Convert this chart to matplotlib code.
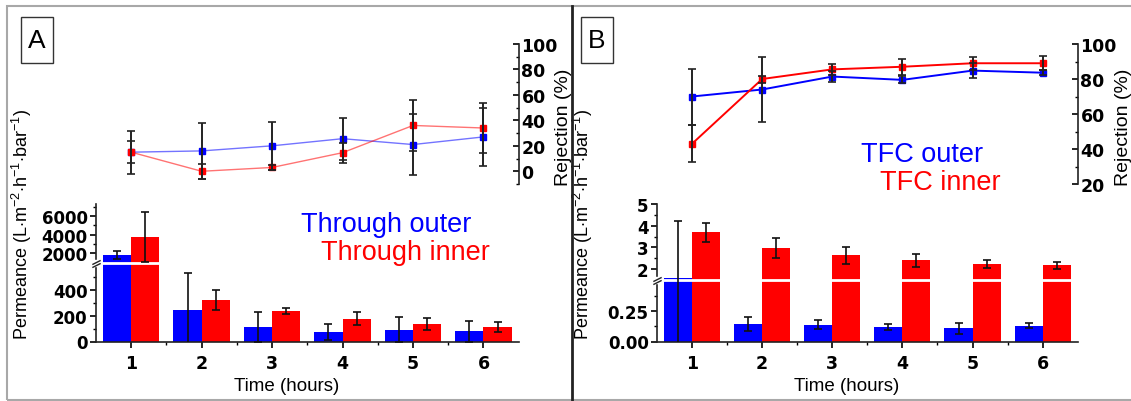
import numpy as np
import matplotlib
matplotlib.use('Agg')
import matplotlib.pyplot as plt
from matplotlib.patches import Rectangle
from matplotlib.lines import Line2D
from matplotlib import transforms

plt.rcParams['font.family'] = ['Liberation Sans', 'DejaVu Sans']
plt.rcParams['mathtext.fontset'] = 'custom'
plt.rcParams['mathtext.rm'] = 'Liberation Sans'
plt.rcParams['mathtext.it'] = 'Liberation Sans:italic'

# time points (hours)
hours = [1, 2, 3, 4, 5, 6]

# panel A - "Through" membranes
perm_outer_A = [1800, 240, 115, 72, 90, 80]
perm_outer_A_err = [420, 290, 115, 60, 95, 80]
perm_inner_A = [3750, 323, 233, 175, 136, 110]
perm_inner_A_err = [2700, 77, 25, 50, 48, 38]
rej_outer_A = [15, 16, 20, 25.6, 21, 27]
rej_outer_A_err = [8.5, 22, 19, 16.5, 24, 23]
rej_inner_A = [15, 0, 3, 14.6, 36, 34]
rej_inner_A_err = [17, 6, 2, 8, 20, 20]

# panel B - TFC membranes
perm_outer_B = [1.6, 0.144, 0.139, 0.12, 0.109, 0.13]
perm_outer_B_err = [2.63, 0.055, 0.035, 0.025, 0.045, 0.022]
perm_inner_B = [3.69, 2.98, 2.63, 2.40, 2.22, 2.17]
perm_inner_B_err = [0.45, 0.45, 0.4, 0.3, 0.18, 0.18]
rej_outer_B = [70, 74, 81.4, 79.5, 84.8, 83.6]
rej_outer_B_err = [16, 18.5, 3, 2, 4.4, 1.5]
rej_inner_B = [43, 80, 85.5, 87, 89, 89]
rej_inner_B_err = [10.5, 2, 3, 4.5, 3.7, 4]

BLUE = '#0000ff'
RED = '#ff0000'
W, H = 1131, 402
TICK_FONT = {'family': 'DejaVu Sans', 'weight': 'bold'}


def piecewise(v, xp, fp):
    # piecewise linear map used for the broken y axis
    v = np.asarray(v, dtype=float)
    out = np.interp(v, xp, fp)
    lo = (fp[1] - fp[0]) / (xp[1] - xp[0])
    hi = (fp[-1] - fp[-2]) / (xp[-1] - xp[-2])
    out = np.where(v < xp[0], fp[0] + (v - xp[0]) * lo, out)
    out = np.where(v > xp[-1], fp[-1] + (v - xp[-1]) * hi, out)
    return out


def px_axes(fig, x0, y0, x1, y1):
    return fig.add_axes([x0 / W, 1 - y1 / H, (x1 - x0) / W, (y1 - y0) / H])


def draw_panel(fig, x0, x1, outer, outer_err, inner, inner_err,
               rej_o, rej_o_err, rej_i, rej_i_err,
               brk_x, brk_f, brk_line, yticks, yticklabels, yminor,
               rej_lim, rej_ticks, thin_lines, rej_label_x):
    x = np.array(hours)

    # --- permeance bars (broken axis) ---
    ax = px_axes(fig, x0, 205, x1, 342.5)
    ax.set_yscale('function', functions=(lambda v: piecewise(v, brk_x, brk_f),
                                         lambda v: piecewise(v, brk_f, brk_x)))
    ax.bar(x - 0.2, outer, 0.4, color=BLUE, zorder=2)
    ax.bar(x + 0.2, inner, 0.4, color=RED, zorder=2)
    ax.axhline(brk_line, color='white', lw=2, zorder=3)
    ax.errorbar(x - 0.2, outer, yerr=outer_err, fmt='none', ecolor='#111111',
                elinewidth=1.2, capsize=3, capthick=1.2, zorder=4)
    ax.errorbar(x + 0.2, inner, yerr=inner_err, fmt='none', ecolor='#111111',
                elinewidth=1.2, capsize=3, capthick=1.2, zorder=4)
    ax.set_xlim(0.5, 6.5)
    ax.set_ylim(brk_x[0], brk_x[-1])
    ax.set_yticks(yticks)
    ax.set_yticklabels(yticklabels, fontdict=TICK_FONT, fontsize=12)
    ax.set_yticks(yminor, minor=True)
    ax.set_xticks(hours)
    ax.set_xticklabels([str(h) for h in hours], fontdict=TICK_FONT, fontsize=12.5)
    ax.set_xticks(np.arange(1.5, 6, 1), minor=True)
    ax.tick_params(which='major', length=4, width=1.2, pad=2)
    ax.tick_params(which='minor', length=2.5, width=1)
    ax.tick_params(axis='x', which='major', pad=5)
    for s in ['top', 'right']:
        ax.spines[s].set_visible(False)
    for s in ['left', 'bottom']:
        ax.spines[s].set_linewidth(1.2)
        ax.spines[s].set_color('#222222')
    ax.set_xlabel('Time (hours)', fontsize=13.5)
    ax.xaxis.set_label_coords(0.45, -0.26)
    ax.text(-0.175, 0.86, 'Permeance (L$\\cdot$m$^{-2}$$\\cdot$h$^{-1}$$\\cdot$bar$^{-1}$)',
            transform=ax.transAxes, rotation=90, ha='center', va='center',
            fontsize=13)
    # break mark on the y spine
    tr = ax.get_yaxis_transform()
    ax.plot([0], [brk_line], marker='s', ms=5, color='white', mec='white',
            transform=tr, clip_on=False, zorder=5)
    for dy in (-1.5, 1.5):
        t = transforms.offset_copy(tr, fig=fig, y=dy, units='dots')
        ax.plot([0], [brk_line], marker=[(-1, -0.5), (1, 0.5)], ms=6,
                color='#222222', mew=1, transform=t, clip_on=False, zorder=6)

    # --- rejection lines (right axis) ---
    ar = px_axes(fig, x0, 45, x1, 185)
    ar.patch.set_visible(False)
    lw = 1.0 if thin_lines else 1.4
    al = 0.55 if thin_lines else 1.0
    ar.plot(x, rej_o, color=BLUE, lw=lw, alpha=al, zorder=2)
    ar.plot(x, rej_i, color=RED, lw=lw, alpha=al, zorder=2)
    ar.plot(x, rej_o, 's', color=BLUE, ms=5, zorder=3)
    ar.plot(x, rej_i, 's', color=RED, ms=5, zorder=3)
    ar.errorbar(x, rej_o, yerr=rej_o_err, fmt='none', ecolor='#222222',
                elinewidth=1.4, capsize=3, capthick=1.2, zorder=4)
    ar.errorbar(x, rej_i, yerr=rej_i_err, fmt='none', ecolor='#222222',
                elinewidth=1.4, capsize=3, capthick=1.2, zorder=4)
    ar.set_xlim(0.5, 6.5)
    ar.set_ylim(*rej_lim)
    for s in ['top', 'left', 'bottom']:
        ar.spines[s].set_visible(False)
    ar.spines['right'].set_linewidth(1.2)
    ar.spines['right'].set_color('#222222')
    ar.set_xticks([])
    ar.yaxis.tick_right()
    ar.set_yticks(rej_ticks)
    ar.set_yticklabels([str(t) for t in rej_ticks], fontdict=TICK_FONT, fontsize=12.5)
    ar.set_yticks(np.arange(rej_lim[0], rej_lim[1] + 1, 10), minor=True)
    ar.tick_params(axis='y', which='major', direction='in', length=4, width=1.2, pad=2)
    ar.tick_params(axis='y', which='minor', direction='in', length=2.5, width=1)
    ar.text(rej_label_x, 0.41, 'Rejection (%)', transform=ar.transAxes, rotation=90,
            ha='center', va='center', fontsize=14)
    return ax, ar


fig = plt.figure(figsize=(W / 100, H / 100), dpi=100)

draw_panel(fig, 96, 518.7, perm_outer_A, perm_outer_A_err, perm_inner_A, perm_inner_A_err,
           rej_outer_A, rej_outer_A_err, rej_inner_A, rej_inner_A_err,
           [0, 600, 1000, 7270], [0, 78, 79, 137.5], 800,
           [0, 200, 400, 2000, 4000, 6000], ['0', '200', '400', '2000', '4000', '6000'],
           [100, 300, 500, 3000, 5000, 7000],
           (-10, 100), [0, 20, 40, 60, 80, 100], True, 1.107)

draw_panel(fig, 657, 1077.7, perm_outer_B, perm_outer_B_err, perm_inner_B, perm_inner_B_err,
           rej_outer_B, rej_outer_B_err, rej_inner_B, rej_inner_B_err,
           [0, 0.5, 1.5, 5], [0, 61, 61.5, 137.5], 1.0,
           [0, 0.25, 2, 3, 4, 5], ['0.00', '0.25', '2', '3', '4', '5'],
           [0.125, 0.375, 2.5, 3.5, 4.5],
           (20, 100), [20, 40, 60, 80, 100], False, 1.11)

# legends written as coloured text
fig.text(301 / W, 1 - 225 / H, 'Through outer', color=BLUE, fontsize=19.5, va='center')
fig.text(321 / W, 1 - 253 / H, 'Through inner', color=RED, fontsize=19.5, va='center')
fig.text(861 / W, 1 - 155 / H, 'TFC outer', color=BLUE, fontsize=19.5, va='center')
fig.text(880 / W, 1 - 183 / H, 'TFC inner', color=RED, fontsize=19.5, va='center')

# panel letters in boxes
for lx, letter in [(20.7, 'A'), (581, 'B')]:
    fig.add_artist(Rectangle((lx / W, 1 - 64.3 / H), 32 / W, 46 / H, fill=False,
                             edgecolor='#333333', lw=1, transform=fig.transFigure))
    fig.text((lx + 16) / W, 1 - 41.5 / H, letter, fontsize=19, ha='center', va='center')

# frame and separator
fig.add_artist(Rectangle((7 / W, 1 / H), 1.0, 394 / H, fill=False,
                         edgecolor='#a8a8a8', lw=1.5, transform=fig.transFigure))
fig.add_artist(Line2D([572 / W, 572 / W], [1 / H, 1 - 7 / H], color='#222222', lw=2,
                      transform=fig.transFigure))

plt.savefig('out.png', dpi=100)
